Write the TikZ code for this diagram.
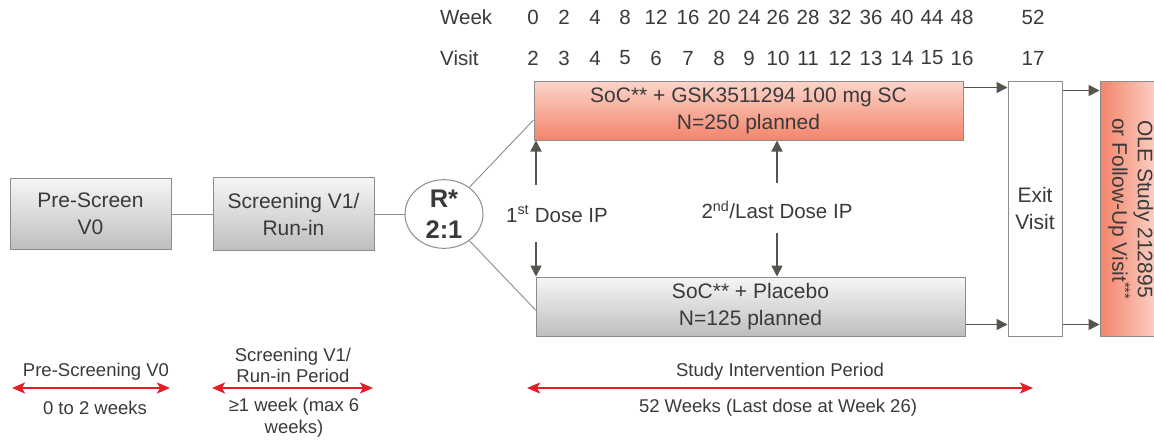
\documentclass[tikz,border=0pt]{standalone}
\usepackage{fontspec}
\setmainfont{Liberation Sans}
\usetikzlibrary{arrows.meta,shapes.geometric}

\definecolor{txt}{HTML}{3A3A3A}
\definecolor{edge}{HTML}{8C8C8C}
\definecolor{arr}{HTML}{55554D}
\definecolor{salmonhi}{HTML}{FBD5CA}
\definecolor{salmonlo}{HTML}{F4846B}
\definecolor{grayhi}{HTML}{F6F6F4}
\definecolor{graylo}{HTML}{BEBEBC}
\definecolor{redline}{HTML}{E31E24}

\tikzset{
  box/.style={draw=edge, line width=1pt, inner sep=0pt, align=center, text=txt,
    font=\fontsize{21}{27}\selectfont},
  graybox/.style={box, top color=grayhi, bottom color=graylo},
  pinkbox/.style={box, top color=salmonhi, bottom color=salmonlo},
  flow/.style={draw=arr, line width=1.6pt, -{Triangle[length=11pt,width=11pt]}},
  link/.style={draw=edge, line width=0.9pt},
  span/.style={draw=redline, line width=2pt,
    {Stealth[length=13pt,width=11pt,inset=3pt]}-{Stealth[length=13pt,width=11pt,inset=3pt]}},
  lbl/.style={text=txt, font=\fontsize{18.5}{21.5}\selectfont, inner sep=0pt, align=center},
  tick/.style={text=txt, font=\fontsize{20.5}{24}\selectfont, inner sep=0pt}
}

\begin{document}
\begin{tikzpicture}[x=1pt,y=-1pt]
\useasboundingbox[fill=white] (0,0) rectangle (1154,440);

% timeline header
\node[tick, anchor=west] (wk) at (440,17) {Week};
\node[tick, anchor=west] (vs) at (440,58) {Visit};
\foreach \x/\w/\v [count=\i] in {533/0/2, 564/2/3, 595/4/4, 625/8/5, 656/12/6,
    688/16/7, 719/20/8, 749/24/9, 778/26/10, 808/28/11, 840/32/12, 871/36/13,
    902/40/14, 932/44/15, 962/48/16, 1033/52/17}{
  \node[tick] (w\i) at (\x,17) {\w};
  \node[tick] (v\i) at (\x,58) {\v};
}

% screening and randomisation
\node[graybox, minimum width=161pt, minimum height=71pt] (pre) at (90.5,214) {Pre-Screen\\V0};
\node[graybox, minimum width=161pt, minimum height=73pt] (scr) at (293.5,214) {Screening V1/\\Run-in};
\node[ellipse, draw=edge, line width=1pt, fill=white, minimum width=78pt, minimum height=60pt,
      inner sep=0pt, align=center, text=txt, font=\bfseries\fontsize{25.5}{31}\selectfont] (rnd) at (444,214) {R*\\2:1};

\draw[link] (pre) -- (scr);
\draw[link] (scr) -- (rnd);

% treatment arms
\node[pinkbox, minimum width=429pt, minimum height=59pt] (top) at (748.5,110.5)
  {SoC** + GSK3511294 100 mg SC\\N=250 planned};
\node[graybox, minimum width=429pt, minimum height=59pt] (bot) at (750.5,306.5)
  {SoC** + Placebo\\N=125 planned};

\draw[link] (rnd) -- ([yshift=-9.5pt]top.west);
\draw[link] (rnd) -- ([yshift=-3.5pt]bot.west);

% exit and follow-up
\node[box, fill=white, minimum width=54pt, minimum height=255pt] (exit) at (1035,208.5) {Exit\\Visit};
\node[box, left color=salmonlo, right color=salmonhi, minimum width=60pt, minimum height=255pt] (ole) at (1130,208.5) {};
\node[rotate=-90, align=center, text=txt, inner sep=0pt, font=\fontsize{21}{25.5}\selectfont] (oletxt) at (1130.5,209)
  {OLE Study 212895\\or Follow-Up Visit\textsuperscript{***}};

\draw[flow] ([yshift=-7pt]top.north east) -- ([yshift=-7pt]exit.north west);
\draw[flow] ([yshift=-10pt]exit.north east) -- ([yshift=-10pt]ole.north west);
\draw[flow] ([yshift=12pt]bot.south east) -- ([yshift=12pt]exit.south west);
\draw[flow] ([yshift=12pt]exit.south east) -- ([yshift=12pt]ole.south west);

% dosing markers
\node[tick] (dose1) at (557,214) {1\textsuperscript{st} Dose IP};
\node[tick] (dose2) at (777,210) {2\textsuperscript{nd}/Last Dose IP};
\coordinate (d1u) at (536,185);
\coordinate (d1d) at (536,242);
\coordinate (d2u) at (777,183);
\coordinate (d2d) at (777,233);
\draw[flow] (d1u) -- (d1u |- top.south);
\draw[flow] (d1d) -- (d1d |- bot.north);
\draw[flow] (d2u) -- (d2u |- top.south);
\draw[flow] (d2d) -- (d2d |- bot.north);

% period spans
\coordinate (p1a) at (12,388);  \coordinate (p1b) at (170,388);
\coordinate (p2a) at (212,388); \coordinate (p2b) at (373,388);
\coordinate (p3a) at (527,388); \coordinate (p3b) at (1033,388);
\draw[span] (p1a) -- (p1b);
\draw[span] (p2a) -- (p2b);
\draw[span] (p3a) -- (p3b);

\node[lbl] (l1a) at (96,372) {Pre-Screening V0};
\node[lbl] (l1b) at (95,408) {0 to 2 weeks};
\node[lbl, anchor=south] (l2a) at (293,383) {Screening V1/\\Run-in Period};
\node[lbl, anchor=north] (l2b) at (294,398) {≥1 week (max 6\\weeks)};
\node[lbl] (l3a) at (780,372) {Study Intervention Period};
\node[lbl] (l3b) at (778,408) {52 Weeks (Last dose at Week 26)};
\end{tikzpicture}
\end{document}
